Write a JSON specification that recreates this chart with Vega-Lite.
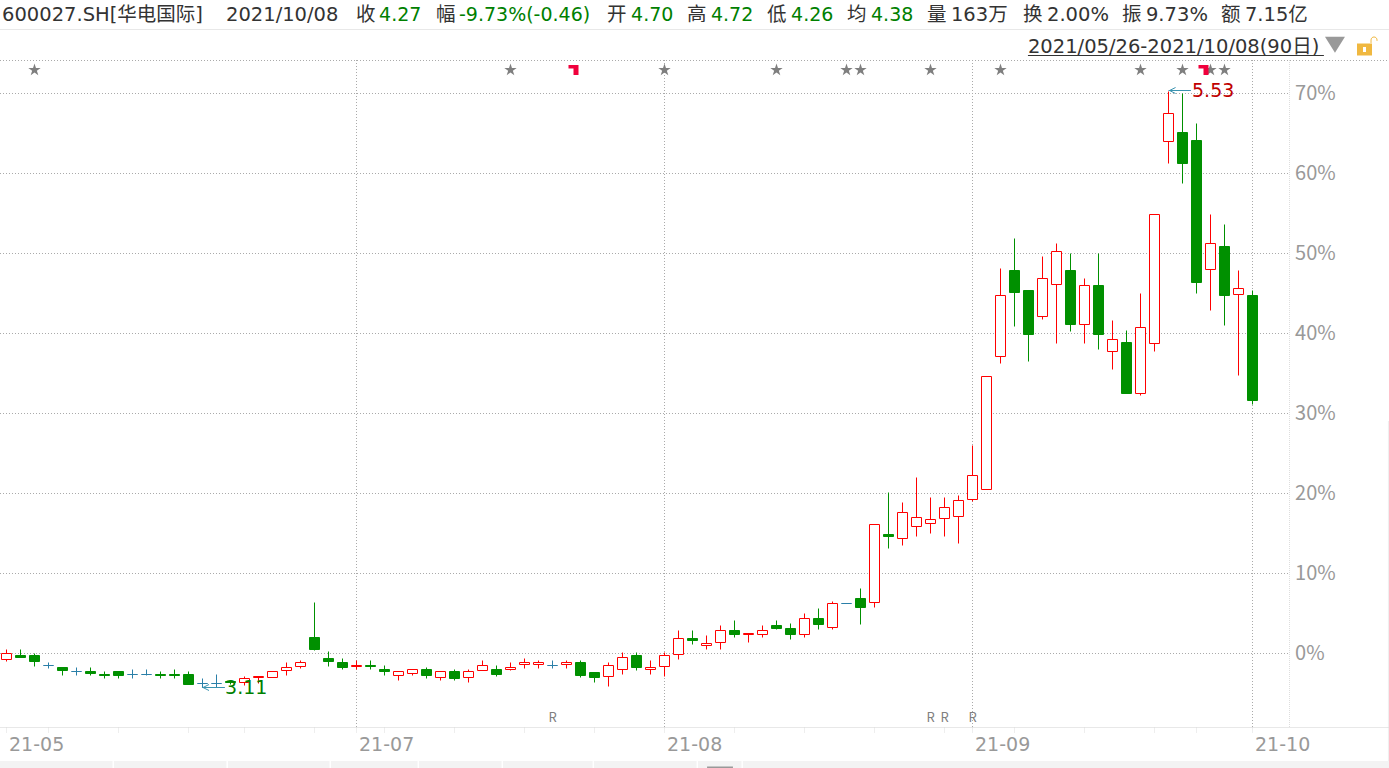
{"$schema":"https://vega.github.io/schema/vega-lite/v6.json","width":1389,"height":768,"padding":0,"autosize":{"type":"none"},"background":"white","config":{"view":{"stroke":null},"text":{"font":"Noto Sans CJK SC"}},
"datasets":{
"candles":[
{"n":0,"top":0,"bot":-0.75,"hi":0.5,"lo":-1,"kind":"up"},{"n":1,"top":-0.25,"bot":-0.5,"hi":0.5,"lo":-0.5,"kind":"down"},{"n":2,"top":-0.25,"bot":-1,"hi":0,"lo":-1.625,"kind":"down"},{"n":3,"top":-1.5,"bot":-1.5,"hi":-1.125,"lo":-1.875,"kind":"flat"},{"n":4,"top":-1.75,"bot":-2.125,"hi":-1.75,"lo":-2.75,"kind":"down"},{"n":5,"top":-2.25,"bot":-2.25,"hi":-1.75,"lo":-2.75,"kind":"flat"},{"n":6,"top":-2.25,"bot":-2.5,"hi":-1.75,"lo":-2.75,"kind":"down"},{"n":7,"top":-2.625,"bot":-2.75,"hi":-2.25,"lo":-3.125,"kind":"down"},{"n":8,"top":-2.25,"bot":-2.75,"hi":-2.25,"lo":-3.125,"kind":"down"},{"n":9,"top":-2.625,"bot":-2.625,"hi":-2,"lo":-3.125,"kind":"flat"},
{"n":10,"top":-2.625,"bot":-2.625,"hi":-2,"lo":-2.75,"kind":"flat"},{"n":11,"top":-2.625,"bot":-2.75,"hi":-2.25,"lo":-3.125,"kind":"down"},{"n":12,"top":-2.625,"bot":-2.75,"hi":-2,"lo":-3.125,"kind":"down"},{"n":13,"top":-2.625,"bot":-3.875,"hi":-2.25,"lo":-3.875,"kind":"down"},{"n":14,"top":-3.75,"bot":-3.75,"hi":-3.125,"lo":-4.25,"kind":"flat"},{"n":15,"top":-3.75,"bot":-3.75,"hi":-2.625,"lo":-4.25,"kind":"flat"},{"n":16,"top":-3.5,"bot":-3.625,"hi":-3.5,"lo":-3.875,"kind":"down"},{"n":17,"top":-3.125,"bot":-3.625,"hi":-2.875,"lo":-4,"kind":"up"},{"n":18,"top":-2.875,"bot":-3,"hi":-2.875,"lo":-3.75,"kind":"up"},{"n":19,"top":-2.25,"bot":-3,"hi":-2.25,"lo":-3,"kind":"up"},
{"n":20,"top":-1.75,"bot":-2.125,"hi":-1.125,"lo":-2.75,"kind":"up"},{"n":21,"top":-1.125,"bot":-1.625,"hi":-0.875,"lo":-1.875,"kind":"up"},{"n":22,"top":2,"bot":0.5,"hi":6.375,"lo":0.375,"kind":"down"},{"n":23,"top":-0.625,"bot":-1,"hi":0.25,"lo":-1.625,"kind":"down"},{"n":24,"top":-1.125,"bot":-1.75,"hi":-0.625,"lo":-2,"kind":"down"},{"n":25,"top":-1.5,"bot":-1.625,"hi":-0.875,"lo":-2,"kind":"up"},{"n":26,"top":-1.5,"bot":-1.625,"hi":-0.875,"lo":-2,"kind":"down"},{"n":27,"top":-2,"bot":-2.25,"hi":-1.5,"lo":-2.75,"kind":"down"},{"n":28,"top":-2.25,"bot":-2.75,"hi":-2.25,"lo":-3.375,"kind":"up"},{"n":29,"top":-2,"bot":-2.5,"hi":-2,"lo":-2.75,"kind":"up"},
{"n":30,"top":-2,"bot":-2.75,"hi":-1.75,"lo":-3.125,"kind":"down"},{"n":31,"top":-2.25,"bot":-3,"hi":-2.25,"lo":-3.375,"kind":"up"},{"n":32,"top":-2.25,"bot":-3.125,"hi":-2,"lo":-3.375,"kind":"down"},{"n":33,"top":-2.25,"bot":-3,"hi":-2,"lo":-3.625,"kind":"up"},{"n":34,"top":-1.5,"bot":-2.125,"hi":-0.875,"lo":-2.125,"kind":"up"},{"n":35,"top":-2,"bot":-2.625,"hi":-1.5,"lo":-2.875,"kind":"down"},{"n":36,"top":-1.75,"bot":-2,"hi":-1.125,"lo":-2.125,"kind":"up"},{"n":37,"top":-1.125,"bot":-1.375,"hi":-0.625,"lo":-1.875,"kind":"up"},{"n":38,"top":-1.125,"bot":-1.375,"hi":-0.875,"lo":-1.875,"kind":"up"},{"n":39,"top":-1.5,"bot":-1.5,"hi":-0.875,"lo":-1.875,"kind":"flat"},
{"n":40,"top":-1.125,"bot":-1.375,"hi":-0.875,"lo":-1.875,"kind":"up"},{"n":41,"top":-1.125,"bot":-2.75,"hi":-0.875,"lo":-3,"kind":"down"},{"n":42,"top":-2.375,"bot":-3,"hi":-2.375,"lo":-3.625,"kind":"down"},{"n":43,"top":-1.5,"bot":-2.875,"hi":-1.125,"lo":-4.125,"kind":"up"},{"n":44,"top":-0.5,"bot":-2,"hi":0.125,"lo":-2.625,"kind":"up"},{"n":45,"top":-0.25,"bot":-1.75,"hi":0.125,"lo":-2.125,"kind":"down"},{"n":46,"top":-1.75,"bot":-2,"hi":-0.875,"lo":-2.625,"kind":"up"},{"n":47,"top":-0.25,"bot":-1.625,"hi":0.125,"lo":-2.875,"kind":"up"},{"n":48,"top":1.875,"bot":-0.125,"hi":2.875,"lo":-0.75,"kind":"up"},{"n":49,"top":1.875,"bot":1.625,"hi":2.875,"lo":1.125,"kind":"down"},
{"n":50,"top":1.25,"bot":1,"hi":2.25,"lo":0.5,"kind":"up"},{"n":51,"top":2.875,"bot":1.375,"hi":3.5,"lo":0.5,"kind":"up"},{"n":52,"top":2.875,"bot":2.375,"hi":4.125,"lo":2,"kind":"down"},{"n":53,"top":2.5,"bot":2.375,"hi":2.5,"lo":1.375,"kind":"up"},{"n":54,"top":2.875,"bot":2.375,"hi":3.5,"lo":2,"kind":"up"},{"n":55,"top":3.5,"bot":3.125,"hi":4.125,"lo":3,"kind":"down"},{"n":56,"top":3.125,"bot":2.375,"hi":3.75,"lo":1.75,"kind":"down"},{"n":57,"top":4.375,"bot":2.375,"hi":5,"lo":2,"kind":"up"},{"n":58,"top":4.375,"bot":3.625,"hi":5.625,"lo":3,"kind":"down"},{"n":59,"top":6.25,"bot":3.25,"hi":6.5,"lo":3,"kind":"up"},
{"n":60,"top":6.25,"bot":6.25,"hi":6.25,"lo":6.25,"kind":"flat"},{"n":61,"top":6.875,"bot":5.75,"hi":8.125,"lo":3.625,"kind":"down"},{"n":62,"top":16.125,"bot":6.375,"hi":16.125,"lo":5.75,"kind":"up"},{"n":63,"top":14.875,"bot":14.625,"hi":20.125,"lo":13.125,"kind":"down"},{"n":64,"top":17.625,"bot":14.375,"hi":18.875,"lo":13.5,"kind":"up"},{"n":65,"top":17,"bot":15.875,"hi":22,"lo":14.625,"kind":"up"},{"n":66,"top":16.75,"bot":16.25,"hi":19.5,"lo":15,"kind":"up"},{"n":67,"top":18.25,"bot":16.875,"hi":19.5,"lo":14.625,"kind":"up"},{"n":68,"top":19.125,"bot":17.125,"hi":19.75,"lo":13.75,"kind":"up"},{"n":69,"top":22.25,"bot":19.25,"hi":26,"lo":19,"kind":"up"},
{"n":70,"top":34.625,"bot":20.5,"hi":34.625,"lo":20.5,"kind":"up"},{"n":71,"top":44.75,"bot":37.125,"hi":48.125,"lo":36.25,"kind":"up"},{"n":72,"top":47.875,"bot":45.125,"hi":51.875,"lo":40.875,"kind":"down"},{"n":73,"top":45.375,"bot":39.875,"hi":45.375,"lo":36.5,"kind":"down"},{"n":74,"top":46.875,"bot":42.125,"hi":49.625,"lo":41.75,"kind":"up"},{"n":75,"top":50.25,"bot":46.125,"hi":51.25,"lo":38.75,"kind":"up"},{"n":76,"top":47.875,"bot":41.125,"hi":50,"lo":40.25,"kind":"down"},{"n":77,"top":46,"bot":41.125,"hi":46.875,"lo":38.75,"kind":"up"},{"n":78,"top":46,"bot":39.875,"hi":50,"lo":38,"kind":"down"},{"n":79,"top":39.25,"bot":37.75,"hi":41.625,"lo":35.5,"kind":"up"},
{"n":80,"top":38.875,"bot":32.5,"hi":40.375,"lo":32.5,"kind":"down"},{"n":81,"top":40.75,"bot":32.5,"hi":45,"lo":32.25,"kind":"up"},{"n":82,"top":54.875,"bot":38.75,"hi":54.875,"lo":37.75,"kind":"up"},{"n":83,"top":67.5,"bot":64,"hi":70.25,"lo":61.25,"kind":"up"},{"n":84,"top":65.125,"bot":61.25,"hi":70,"lo":58.75,"kind":"down"},{"n":85,"top":64.125,"bot":46.375,"hi":66.25,"lo":45,"kind":"down"},{"n":86,"top":51.25,"bot":48,"hi":54.875,"lo":42.875,"kind":"up"},{"n":87,"top":50.875,"bot":44.75,"hi":53.625,"lo":41,"kind":"down"},{"n":88,"top":45.625,"bot":44.875,"hi":47.875,"lo":34.75,"kind":"up"},{"n":89,"top":44.75,"bot":31.625,"hi":45.375,"lo":31.125,"kind":"down"}
],
"hgrid":[{"pct":0,"a":-0.464,"b":91.643},{"pct":10,"a":-0.464,"b":91.643},{"pct":20,"a":-0.464,"b":91.643},{"pct":30,"a":-0.464,"b":91.643},{"pct":40,"a":-0.464,"b":91.643},{"pct":50,"a":-0.464,"b":91.643},{"pct":60,"a":-0.464,"b":91.643},{"pct":70,"a":-0.464,"b":91.643},{"pct":74.125,"a":-0.464,"b":98.75}],
"hlight":[{"a":-0.464,"b":98.75,"pct":78},{"a":-0.464,"b":98.75,"pct":-9.25}],
"vgrid":[{"n":25,"pct":74.1875,"p2":-9.25},{"n":47,"pct":74.1875,"p2":-9.25},{"n":69,"pct":74.1875,"p2":-9.25},{"n":89,"pct":74.1875,"p2":-9.25}],
"vlight":[{"n":91.643,"pct":74.1875,"p2":-9.25},{"n":98.71,"pct":29,"p2":-13.4},{"n":0,"pct":-9.25,"p2":-9.9},{"n":3,"pct":-9.25,"p2":-9.9},{"n":8,"pct":-9.25,"p2":-9.9},{"n":13,"pct":-9.25,"p2":-9.9},{"n":17,"pct":-9.25,"p2":-9.9},{"n":22,"pct":-9.25,"p2":-9.9},{"n":25,"pct":-9.25,"p2":-9.9},{"n":27,"pct":-9.25,"p2":-9.9},{"n":32,"pct":-9.25,"p2":-9.9},{"n":37,"pct":-9.25,"p2":-9.9},{"n":42,"pct":-9.25,"p2":-9.9},{"n":47,"pct":-9.25,"p2":-9.9},{"n":52,"pct":-9.25,"p2":-9.9},{"n":57,"pct":-9.25,"p2":-9.9},{"n":62,"pct":-9.25,"p2":-9.9},{"n":67,"pct":-9.25,"p2":-9.9},{"n":69,"pct":-9.25,"p2":-9.9},{"n":72,"pct":-9.25,"p2":-9.9},{"n":77,"pct":-9.25,"p2":-9.9},{"n":82,"pct":-9.25,"p2":-9.9},{"n":85,"pct":-9.25,"p2":-9.9},{"n":89,"pct":-9.25,"p2":-9.9}],
"strip":[{"a":-0.464,"b":7.57,"pct":-13.44,"p2":-14.3125},{"a":7.68,"b":15.71,"pct":-13.44,"p2":-14.3125},{"a":15.82,"b":23.07,"pct":-13.44,"p2":-14.3125},{"a":23.18,"b":29.36,"pct":-13.44,"p2":-14.3125},{"a":29.46,"b":35.36,"pct":-13.44,"p2":-14.3125},{"a":35.46,"b":41.86,"pct":-13.44,"p2":-14.3125},{"a":41.96,"b":49.29,"pct":-13.44,"p2":-14.3125},{"a":49.39,"b":52.5,"pct":-13.44,"p2":-14.3125},{"a":52.6,"b":98.75,"pct":-13.44,"p2":-14.3125}],
"rLabels":[{"n":39,"pct":-8.06,"t":"R"},{"n":66,"pct":-8.06,"t":"R"},{"n":67,"pct":-8.06,"t":"R"},{"n":69,"pct":-8.06,"t":"R"}],
"pctText":[{"n":92.04,"pct":0,"t":"0%"},{"n":92.04,"pct":10,"t":"10%"},{"n":92.04,"pct":20,"t":"20%"},{"n":92.04,"pct":30,"t":"30%"},{"n":92.04,"pct":40,"t":"40%"},{"n":92.04,"pct":50,"t":"50%"},{"n":92.04,"pct":60,"t":"60%"},{"n":92.04,"pct":70,"t":"70%"}],
"monthText":[{"n":0.18,"pct":-11.44,"t":"21-05"},{"n":25.18,"pct":-11.44,"t":"21-07"},{"n":47.18,"pct":-11.44,"t":"21-08"},{"n":69.18,"pct":-11.44,"t":"21-09"},{"n":89.18,"pct":-11.44,"t":"21-10"}],
"darkText":[
{"n":-0.32,"pct":79.81,"t":"600027.SH[华电国际]"},{"n":15.68,"pct":79.81,"t":"2021/10/08"},{"n":24.96,"pct":79.81,"t":"收"},{"n":30.68,"pct":79.81,"t":"幅"},{"n":42.89,"pct":79.81,"t":"开"},{"n":48.61,"pct":79.81,"t":"高"},{"n":54.32,"pct":79.81,"t":"低"},{"n":60.04,"pct":79.81,"t":"均"},{"n":65.75,"pct":79.81,"t":"量"},{"n":67.46,"pct":79.81,"t":"163万"},{"n":72.61,"pct":79.81,"t":"换"},{"n":74.32,"pct":79.81,"t":"2.00%"},{"n":79.68,"pct":79.81,"t":"振"},{"n":81.39,"pct":79.81,"t":"9.73%"},{"n":86.75,"pct":79.81,"t":"额"},{"n":88.46,"pct":79.81,"t":"7.15亿"},{"n":72.96,"pct":75.81,"t":"2021/05/26-2021/10/08(90日)"}],
"greenText":[{"n":15.61,"pct":-4.31,"t":"3.11"},{"n":26.61,"pct":79.81,"t":"4.27"},{"n":32.32,"pct":79.81,"t":"-9.73%(-0.46)"},{"n":44.61,"pct":79.81,"t":"4.70"},{"n":50.32,"pct":79.81,"t":"4.72"},{"n":56.04,"pct":79.81,"t":"4.26"},{"n":61.75,"pct":79.81,"t":"4.38"}],
"stars":[{"n":2,"pct":72.94},{"n":36,"pct":72.94},{"n":47,"pct":72.94},{"n":55,"pct":72.94},{"n":60,"pct":72.94},{"n":61,"pct":72.94},{"n":66,"pct":72.94},{"n":71,"pct":72.94},{"n":81,"pct":72.94},{"n":84,"pct":72.94},{"n":86,"pct":72.94},{"n":87,"pct":72.94}]
},
"encoding":{"x":{"field":"n","type":"quantitative","scale":{"domain":[-0.464286,98.75],"range":[0,1389],"nice":false,"zero":false,"padding":0},"axis":null},"y":{"field":"pct","type":"quantitative","scale":{"domain":[-14.3125,81.6875],"range":[768,0],"nice":false,"zero":false,"padding":0},"axis":null}},
"layer":[
{"data":{"name":"strip"},"mark":{"type":"rect","color":"#f3f3f3"},"encoding":{"x":{"field":"a","type":"quantitative"},"x2":{"field":"b"},"y2":{"field":"p2"}}},
{"data":{"values":[{"a":50.04,"b":51.89,"pct":-14.125,"p2":-14.3125}]},"mark":{"type":"rect","color":"#999999"},"encoding":{"x":{"field":"a","type":"quantitative"},"x2":{"field":"b"},"y2":{"field":"p2"}}},
{"data":{"name":"hlight"},"mark":{"type":"rule","color":"#e8e8e8","strokeWidth":1},"encoding":{"x":{"field":"a","type":"quantitative"},"x2":{"field":"b"}}},
{"data":{"name":"hgrid"},"mark":{"type":"rule","color":"#aaaaaa","strokeWidth":1,"strokeDash":[1,2]},"encoding":{"x":{"field":"a","type":"quantitative"},"x2":{"field":"b"}}},
{"data":{"name":"vgrid"},"mark":{"type":"rule","color":"#aaaaaa","strokeWidth":1,"strokeDash":[1,2]},"encoding":{"y2":{"field":"p2"}}},
{"data":{"name":"vlight"},"mark":{"type":"rule","color":"#dddddd","strokeWidth":1,"strokeDash":[1,1]},"encoding":{"y2":{"field":"p2"}}},
{"data":{"name":"candles"},"mark":{"type":"rule","strokeWidth":1},"encoding":{"y":{"field":"hi","type":"quantitative"},"y2":{"field":"lo"},"color":{"field":"kind","type":"nominal","legend":null,"scale":{"domain":["up","down","flat"],"range":["#ff0000","#009000","#2a7fa8"]}}}},
{"data":{"name":"candles"},"transform":[{"filter":"datum.kind==='up'"}],"mark":{"type":"bar","size":10,"strokeWidth":1,"fill":"#ffffff","stroke":"#ff0000"},"encoding":{"y":{"field":"top","type":"quantitative"},"y2":{"field":"bot"}}},
{"data":{"name":"candles"},"transform":[{"filter":"datum.kind==='down'"}],"mark":{"type":"bar","size":10,"strokeWidth":1,"fill":"#009000","stroke":"#009000"},"encoding":{"y":{"field":"top","type":"quantitative"},"y2":{"field":"bot"}}},
{"data":{"name":"candles"},"transform":[{"filter":"datum.kind==='flat'"}],"mark":{"type":"bar","size":10,"strokeWidth":1,"fill":"#2a7fa8","stroke":"#2a7fa8"},"encoding":{"y":{"field":"top","type":"quantitative"},"y2":{"field":"bot"}}},
{"data":{"values":[{"a":13.96,"b":15.6,"pct":-4.25},{"a":83,"b":84.6,"pct":70.375}]},"mark":{"type":"rule","color":"#3a93b0","strokeWidth":1},"encoding":{"x":{"field":"a","type":"quantitative"},"x2":{"field":"b"}}},
{"data":{"values":[{"n":14.25,"pct":-4.25},{"n":83.29,"pct":70.375}]},"mark":{"type":"point","shape":"M1 -1 L-1 0 L1 1","filled":false,"color":"#3a93b0","strokeWidth":1,"size":36,"opacity":1}},
{"data":{"name":"rLabels"},"mark":{"type":"text","align":"center","baseline":"middle","fontSize":13,"color":"#808080"},"encoding":{"text":{"field":"t"}}},
{"data":{"name":"pctText"},"mark":{"type":"text","align":"left","baseline":"middle","fontSize":20,"color":"#999999"},"encoding":{"text":{"field":"t"}}},
{"data":{"name":"monthText"},"mark":{"type":"text","align":"left","baseline":"middle","fontSize":19,"color":"#999999","font":"DejaVu Sans"},"encoding":{"text":{"field":"t"}}},
{"data":{"name":"darkText"},"mark":{"type":"text","align":"left","baseline":"middle","fontSize":19.5,"color":"#333333","font":"DejaVu Sans, Noto Sans CJK SC"},"encoding":{"text":{"field":"t"}}},
{"data":{"name":"greenText"},"mark":{"type":"text","align":"left","baseline":"middle","fontSize":19,"color":"#008000","font":"DejaVu Sans"},"encoding":{"text":{"field":"t"}}},
{"data":{"values":[{"n":84.68,"pct":70.31,"t":"5.53"}]},"mark":{"type":"text","align":"left","baseline":"middle","fontSize":19,"color":"#c00000","font":"DejaVu Sans"},"encoding":{"text":{"field":"t"}}},
{"data":{"values":[{"a":72.96,"b":94.1,"pct":74.75}]},"mark":{"type":"rule","color":"#333333","strokeWidth":1},"encoding":{"x":{"field":"a","type":"quantitative"},"x2":{"field":"b"}}},
{"data":{"name":"stars"},"mark":{"type":"point","shape":"M0 -1 L0.225 -0.309 L0.951 -0.309 L0.363 0.118 L0.588 0.809 L0 0.382 L-0.588 0.809 L-0.363 0.118 L-0.951 -0.309 L-0.225 -0.309 Z","filled":true,"size":169,"color":"#7f7f7f","opacity":1}},
{"data":{"values":[{"n":40.5,"pct":72.94},{"n":85.5,"pct":72.94}]},"mark":{"type":"point","shape":"M-1 -1 H1 V1 H0 V-0.3 H-1 Z","filled":true,"size":100,"color":"#f0003c","opacity":1}},
{"data":{"values":[{"n":94.89,"pct":76.1}]},"mark":{"type":"point","shape":"M-1 -0.8 H1 L0 0.8 Z","filled":true,"size":400,"color":"#999999","opacity":1}},
{"data":{"values":[{"n":97,"pct":75.5}]},"mark":{"type":"point","shape":"M-1 -0.8 H1 V0.8 H-1 Z","filled":true,"size":225,"color":"#f0b840","opacity":1}},
{"data":{"values":[{"n":97,"pct":75.5}]},"mark":{"type":"point","shape":"M-0.6 -1 H0.6 V1 H-0.6 Z","filled":true,"size":25,"color":"#ffffff","opacity":1}},
{"data":{"values":[{"n":97.68,"pct":76.69}]},"mark":{"type":"point","shape":"M-1 1 V0 A1 1 0 0 1 1 0 V0.3","filled":false,"size":36,"strokeWidth":1,"color":"#f0b840","opacity":1}}
]}
